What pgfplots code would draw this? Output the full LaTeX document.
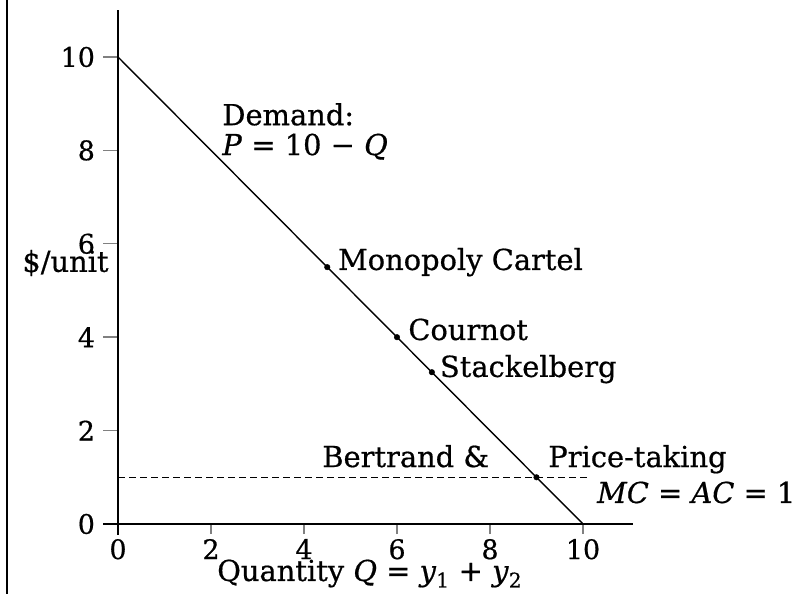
\documentclass[border=0pt]{standalone}
\usepackage{fontspec}
\setmainfont{DejaVu Serif}[FakeBold=0.6]
\usepackage{pgfplots}
\pgfplotsset{compat=1.18}
\begin{document}
\fontsize{29}{34}\selectfont
\begin{tikzpicture}
\useasboundingbox (0,0) rectangle (802bp,594bp);
\draw[line width=1.6bp] (7bp,0) -- (7bp,594bp);
\begin{axis}[
  at={(118bp,70bp)}, anchor=origin,
  x=46.5bp, y=46.7bp,
  xmin=-0.32, xmax=11.07, ymin=-0.23, ymax=11.0,
  axis lines=middle,
  axis line style={-, line width=1.6bp},
  hide obscured x ticks=false, hide obscured y ticks=false,
  tick align=outside,
  xtick={0,2,4,6,8,10}, ytick={0,2,4,6,8,10},
  xtick style={line width=1.4bp, /pgfplots/major tick length=10bp},
  ytick style={line width=1.4bp, /pgfplots/major tick length=15bp},
  /pgf/number format/assume math mode=true,
  ticklabel style={font=\fontsize{27}{32}\selectfont},
  yticklabel style={xshift=-9bp},
  xticklabel style={yshift=-1bp},
  clip=false,
]
\addplot[black, line width=1.4bp] coordinates {(0,10) (10,0)};
\addplot[black, line width=1.4bp, dash pattern=on 7bp off 4bp] coordinates {(0,1) (10.1,1)};
\addplot[only marks, mark=*, mark size=2.8bp, black] coordinates {(4.5,5.5) (6,4) (6.75,3.25) (9,1)};
\node[anchor=base west, inner sep=0pt] at (axis cs:2.24,8.54) {Demand:};
\node[anchor=base west, inner sep=0pt] at (axis cs:2.24,7.90) {\textit{P} = 10 − \textit{Q}};
\node[anchor=base west, inner sep=0pt] at (axis cs:4.73,5.44) {Monopoly Cartel};
\node[anchor=base west, inner sep=0pt] at (axis cs:6.24,3.94) {Cournot};
\node[anchor=base west, inner sep=0pt] at (axis cs:6.92,3.15) {Stackelberg};
\node[anchor=base west, inner sep=0pt] at (axis cs:4.39,1.22) {Bertrand \&};
\node[anchor=base west, inner sep=0pt] at (axis cs:9.25,1.22) {Price-taking};
\node[anchor=base west, inner sep=0pt] at (axis cs:10.3,0.45) {\textit{MC} = \textit{AC} = 1};
\node[anchor=base west, inner sep=0pt] at (axis cs:-2.06,5.40) {\$/unit};
\node[anchor=base west, inner sep=0pt] at (axis cs:2.13,-1.22) {Quantity \textit{Q} = \textit{y}\textsubscript{1} + \textit{y}\textsubscript{2}};
\end{axis}
\end{tikzpicture}
\end{document}
